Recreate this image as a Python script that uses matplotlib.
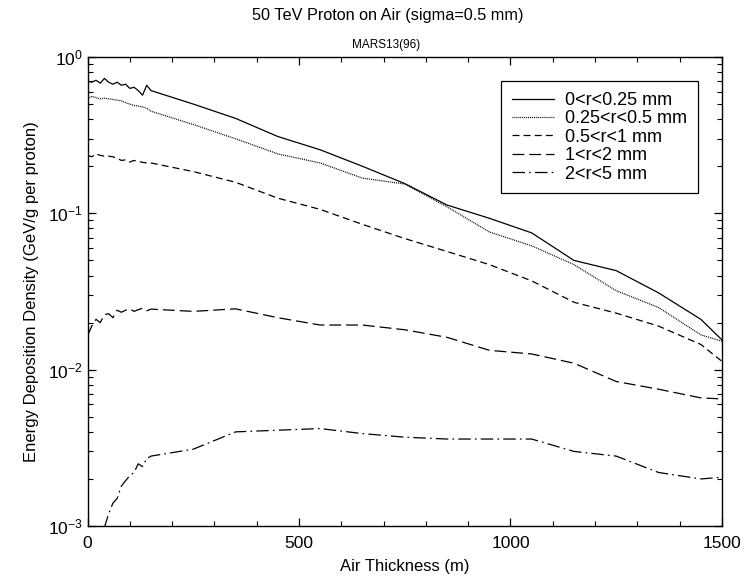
import numpy as np
import matplotlib
matplotlib.use('Agg')
import matplotlib.pyplot as plt
from matplotlib.ticker import MultipleLocator, LogLocator

plt.rcParams['font.family'] = ['Liberation Sans', 'DejaVu Sans']
plt.rcParams['mathtext.default'] = 'regular'
plt.rcParams['lines.scale_dashes'] = False

# air thickness grid (m): fine steps near the start, then every 100 m
x_fine = [0, 10, 20, 30, 40, 50, 60, 70, 80, 90, 100, 110, 120, 130, 140, 150]
x_coarse = [250, 350, 450, 550, 650, 750, 850, 950, 1050, 1150, 1250, 1350, 1450, 1500]
x_all = x_fine + x_coarse

# energy deposition density (GeV/g per proton)
r_0_025 = [0.70, 0.69, 0.71, 0.68, 0.73, 0.69, 0.67, 0.69, 0.66, 0.67, 0.63, 0.64, 0.61, 0.57, 0.66, 0.61,
           0.50, 0.405, 0.31, 0.255, 0.20, 0.155, 0.113, 0.093, 0.075, 0.050, 0.043, 0.031, 0.021, 0.0155]
r_025_05 = [0.54, 0.56, 0.55, 0.54, 0.545, 0.54, 0.535, 0.53, 0.525, 0.51, 0.50, 0.49, 0.485, 0.48, 0.47, 0.45,
            0.37, 0.30, 0.24, 0.21, 0.168, 0.154, 0.110, 0.076, 0.062, 0.047, 0.032, 0.025, 0.0167, 0.0152]
r_05_1 = [0.235, 0.23, 0.24, 0.235, 0.232, 0.232, 0.23, 0.225, 0.218, 0.22, 0.213, 0.218, 0.215, 0.212, 0.21, 0.21,
          0.185, 0.158, 0.125, 0.106, 0.085, 0.069, 0.057, 0.047, 0.037, 0.027, 0.023, 0.019, 0.0145, 0.0113]
r_1_2 = [0.0165, 0.019, 0.021, 0.020, 0.0225, 0.0228, 0.0215, 0.024, 0.0233, 0.024, 0.0245, 0.0236, 0.0242, 0.0247, 0.0238, 0.0244,
         0.0236, 0.0245, 0.0215, 0.0193, 0.0193, 0.018, 0.0161, 0.0133, 0.0126, 0.011, 0.0084, 0.0075, 0.0066, 0.0065]
x_2_5 = x_fine[3:] + x_coarse
r_2_5 = [0.0007, 0.00098, 0.0012, 0.0014, 0.0015, 0.0018, 0.00195, 0.0021, 0.0022, 0.0025, 0.0024, 0.0027, 0.0028,
         0.0031, 0.0040, 0.0041, 0.0042, 0.0039, 0.0037, 0.0036, 0.0036, 0.0036, 0.0030, 0.0028, 0.0022, 0.0020, 0.00205]

labels = ['0<r<0.25 mm', '0.25<r<0.5 mm', '0.5<r<1 mm', '1<r<2 mm', '2<r<5 mm']

fig = plt.figure(figsize=(7.43, 5.8), dpi=100)
ax = fig.add_axes([0.1178, 0.0931, 0.8539, 0.8086])

lw = 0.9
ax.plot(x_all, r_0_025, color='black', lw=lw, linestyle='-', label=labels[0])
ax.plot(x_all, r_025_05, color='black', lw=lw, linestyle=(0, (0.7, 0.7)), label=labels[1])
ax.plot(x_all, r_05_1, color='black', lw=lw, linestyle=(0, (5, 3)), label=labels[2])
ax.plot(x_all, r_1_2, color='black', lw=lw, linestyle=(0, (8.5, 3.6)), label=labels[3])
ax.plot(x_2_5, r_2_5, color='black', lw=lw, linestyle=(0, (9, 3, 1.2, 3)), label=labels[4])

ax.set_yscale('log')
ax.set_xlim(0, 1500)
ax.set_ylim(1e-3, 1)
ax.xaxis.set_major_locator(MultipleLocator(500))
ax.xaxis.set_minor_locator(MultipleLocator(100))
ax.yaxis.set_major_locator(LogLocator(base=10))
ax.yaxis.set_minor_locator(LogLocator(base=10, subs=np.arange(2, 10)))
ax.tick_params(which='both', direction='in', top=True, right=True, labelsize=12.5, color='black')
ax.tick_params(which='major', length=6, width=0.9)
ax.tick_params(which='minor', length=3.5, width=0.8)
ax.tick_params(axis='x', pad=7)
for s in ax.spines.values():
    s.set_linewidth(1.0)

ax.set_xlabel('Air Thickness (m)', fontsize=12, labelpad=6)
ax.set_ylabel('Energy Deposition Density (GeV/g per proton)', fontsize=12, labelpad=6)

fig.text(0.5213, 0.974, '50 TeV Proton on Air (sigma=0.5 mm)', ha='center', va='center', fontsize=11.7)
fig.text(0.5193, 0.922, 'MARS13(96)', ha='center', va='center', fontsize=8.5)

leg = ax.legend(loc='upper right', fontsize=13, frameon=True, fancybox=False, shadow=False,
                borderaxespad=1.33, handlelength=2.35, handletextpad=0.6, labelspacing=0.08,
                borderpad=0.6, framealpha=1)
leg.get_frame().set_edgecolor('black')
leg.get_frame().set_linewidth(0.9)

fig.savefig('out.png', dpi=100)
